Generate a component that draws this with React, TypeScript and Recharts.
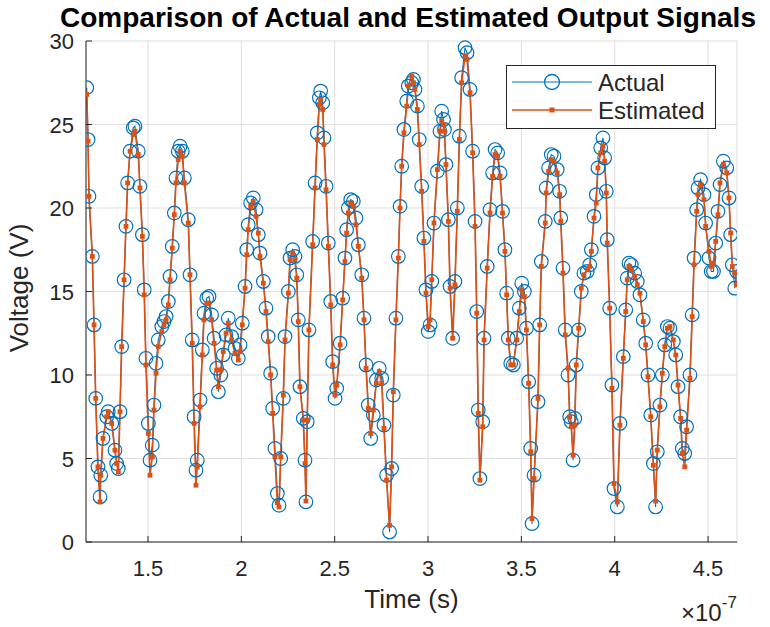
import React from "react";
import { LineChart, Line, XAxis, YAxis, CartesianGrid, Legend, Label } from "recharts";

// time in units of 1e-7 s
const timeE7 = [
  1.172, 1.179, 1.184, 1.202, 1.211, 1.22, 1.232, 1.243, 1.247, 1.259,
  1.279, 1.287, 1.306, 1.323, 1.332, 1.341, 1.35, 1.359, 1.372, 1.382,
  1.391, 1.404, 1.421, 1.43, 1.448, 1.457, 1.47, 1.48, 1.489, 1.502,
  1.511, 1.523, 1.532, 1.543, 1.555, 1.574, 1.586, 1.597, 1.609, 1.618,
  1.63, 1.641, 1.65, 1.662, 1.672, 1.684, 1.695, 1.716, 1.725, 1.737,
  1.747, 1.757, 1.764, 1.779, 1.791, 1.8, 1.815, 1.827, 1.841, 1.854,
  1.868, 1.877, 1.89, 1.903, 1.918, 1.93, 1.948, 1.966, 1.984, 1.993,
  2.005, 2.02, 2.029, 2.037, 2.05, 2.064, 2.079, 2.091, 2.1, 2.118,
  2.132, 2.144, 2.157, 2.168, 2.18, 2.193, 2.202, 2.211, 2.225, 2.234,
  2.252, 2.261, 2.275, 2.287, 2.297, 2.305, 2.314, 2.332, 2.341, 2.346,
  2.353, 2.362, 2.382, 2.395, 2.407, 2.418, 2.425, 2.436, 2.443, 2.454,
  2.466, 2.479, 2.489, 2.502, 2.511, 2.529, 2.543, 2.555, 2.564, 2.573,
  2.586, 2.6, 2.614, 2.627, 2.645, 2.657, 2.668, 2.68, 2.693, 2.707,
  2.723, 2.739, 2.752, 2.764, 2.778, 2.794, 2.805, 2.814, 2.828, 2.841,
  2.85, 2.859, 2.871, 2.886, 2.894, 2.913, 2.922, 2.93, 2.943, 2.953,
  2.966, 2.978, 2.989, 3.001, 3.011, 3.02, 3.032, 3.05, 3.064, 3.073,
  3.083, 3.088, 3.096, 3.109, 3.118, 3.132, 3.144, 3.157, 3.168, 3.18,
  3.198, 3.209, 3.225, 3.239, 3.252, 3.261, 3.269, 3.278, 3.293, 3.3,
  3.317, 3.332, 3.346, 3.359, 3.373, 3.386, 3.399, 3.412, 3.421, 3.43,
  3.443, 3.457, 3.475, 3.489, 3.502, 3.516, 3.527, 3.539, 3.55, 3.557,
  3.568, 3.589, 3.598, 3.607, 3.628, 3.633, 3.646, 3.66, 3.675, 3.692,
  3.705, 3.711, 3.723, 3.735, 3.75, 3.759, 3.767, 3.777, 3.786, 3.794,
  3.807, 3.821, 3.835, 3.853, 3.866, 3.875, 3.889, 3.901, 3.91, 3.925,
  3.937, 3.946, 3.955, 3.96, 3.973, 3.985, 3.996, 4.014, 4.028, 4.046,
  4.059, 4.067, 4.076, 4.089, 4.107, 4.121, 4.135, 4.153, 4.166, 4.178,
  4.193, 4.207, 4.219, 4.228, 4.242, 4.255, 4.268, 4.282, 4.296, 4.314,
  4.327, 4.339, 4.353, 4.362, 4.375, 4.385, 4.403, 4.415, 4.425, 4.439,
  4.446, 4.46, 4.478, 4.487, 4.505, 4.517, 4.529, 4.541, 4.553, 4.564,
  4.582, 4.6, 4.612, 4.621, 4.63, 4.643, 4.653,
];

const actualV = [
  27.2, 24.1, 20.7, 17.1, 13.0, 8.6, 4.5, 2.7, 4.0, 6.2,
  7.5, 7.8, 7.1, 5.5, 4.7, 4.4, 7.8, 11.7, 15.7, 18.9,
  21.5, 23.4, 24.8, 24.9, 23.4, 21.3, 18.4, 15.1, 11.0, 7.1,
  4.9, 5.8, 8.2, 10.7, 12.1, 12.9, 13.2, 13.5, 14.4, 15.9,
  17.7, 19.7, 21.8, 23.4, 23.7, 23.4, 21.8, 19.3, 16.0, 12.1,
  7.5, 4.3, 4.9, 8.5, 11.5, 13.7, 14.6, 14.7, 13.6, 12.2,
  10.4, 9.0, 10.0, 11.2, 12.4, 13.4, 12.3, 11.6, 11.0, 11.8,
  13.1, 15.3, 17.5, 19.0, 20.3, 20.6, 19.9, 18.4, 17.3, 15.6,
  14.0, 12.3, 10.1, 8.0, 5.6, 2.9, 2.2, 5.0, 8.6, 12.3,
  15.0, 17.0, 17.5, 17.1, 16.0, 13.3, 9.3, 7.4, 4.9, 2.4,
  7.2, 12.7, 18.0, 21.5, 24.5, 26.6, 27.0, 26.3, 24.2, 21.3,
  17.9, 14.4, 10.8, 8.6, 9.2, 11.9, 14.6, 17.0, 18.7, 20.0,
  20.5, 20.4, 19.4, 17.8, 16.0, 13.4, 10.6, 8.2, 6.2, 7.6,
  9.7, 10.4, 9.8, 7.0, 4.0, 0.6, 4.4, 8.8, 13.4, 17.1,
  20.1, 22.5, 24.7, 26.4, 27.3, 27.5, 27.7, 27.1, 26.1, 24.1,
  21.3, 18.2, 15.1, 12.6, 13.0, 15.6, 19.1, 22.2, 24.6, 25.8,
  25.3, 24.7, 22.6, 19.3, 15.3, 12.2, 15.6, 20.0, 24.3, 27.8,
  29.6, 29.3, 27.1, 23.4, 19.2, 13.8, 7.9, 3.8, 7.2, 12.2,
  16.5, 19.9, 22.1, 23.5, 23.3, 22.1, 19.8, 17.5, 14.9, 12.2,
  10.7, 10.6, 12.2, 14.0, 15.5, 15.0, 12.8, 9.6, 5.6, 1.1,
  4.0, 8.4, 13.0, 16.8, 19.2, 21.2, 22.4, 23.2, 23.1, 22.3,
  21.0, 19.4, 16.4, 12.7, 10.0, 7.5, 7.2, 4.9, 7.4, 10.6,
  12.7, 15.0, 16.1, 16.2, 16.6, 17.5, 19.5, 20.8, 22.4, 23.6,
  24.2, 23.0, 21.0, 18.1, 14.0, 9.4, 3.2, 2.1, 7.1, 11.1,
  13.9, 15.8, 16.7, 16.6, 16.1, 15.6, 14.8, 13.3, 11.9, 10.0,
  7.6, 4.7, 2.1, 5.4, 8.2, 10.0, 11.8, 12.9, 12.8, 12.0,
  11.2, 9.3, 7.5, 5.6, 5.3, 6.9, 10.0, 13.6, 17.0, 19.9,
  21.2, 21.7, 20.8, 19.1, 17.0, 16.2, 16.2, 17.9, 19.8, 21.4,
  22.8, 22.4, 20.6, 18.4, 16.6, 15.2, 16.2,
];

const estimatedV = [
  26.8, 24.0, 20.7, 17.1, 13.0, 8.6, 4.5, 2.4, 4.0, 6.2,
  7.5, 7.8, 7.1, 5.5, 4.7, 4.2, 7.8, 11.7, 15.7, 18.9,
  21.5, 23.4, 24.4, 24.6, 23.2, 21.2, 18.3, 14.8, 10.6, 6.5,
  4.0, 5.1, 7.9, 10.1, 11.7, 12.6, 13.0, 13.3, 14.2, 15.7,
  17.6, 19.6, 21.5, 22.9, 23.4, 23.1, 21.5, 19.1, 16.0, 11.9,
  7.1, 3.4, 4.5, 8.1, 11.2, 13.3, 14.3, 14.3, 13.3, 11.9,
  10.3, 9.3, 10.3, 11.4, 12.5, 13.1, 12.1, 11.3, 10.9, 11.4,
  13.0, 15.2, 17.2, 18.7, 20.1, 20.4, 19.5, 18.5, 17.1, 15.5,
  13.8, 12.0, 10.0, 7.7, 5.1, 2.35, 2.1, 5.1, 8.8, 12.1,
  14.9, 16.9, 17.3, 16.9, 15.8, 13.2, 9.3, 7.3, 4.7, 2.45,
  7.3, 12.7, 17.8, 21.2, 24.1, 26.2, 26.5, 25.9, 23.8, 21.1,
  17.7, 14.2, 10.6, 8.8, 9.4, 11.8, 14.5, 16.8, 18.5, 19.7,
  20.3, 20.1, 19.0, 17.7, 15.8, 13.3, 10.4, 8.0, 6.5, 7.9,
  9.5, 10.2, 9.5, 6.8, 3.7, 1.0, 4.5, 9.0, 13.3, 17.0,
  20.0, 22.5, 24.5, 26.1, 27.3, 27.9, 27.5, 27.1, 25.9, 23.8,
  21.0, 18.0, 14.9, 12.9, 13.3, 15.7, 19.1, 22.3, 24.6, 25.2,
  25.0, 24.6, 22.6, 19.2, 15.2, 12.2, 15.4, 19.8, 24.1, 27.5,
  29.1, 28.9, 26.9, 23.3, 18.9, 13.7, 7.7, 3.7, 6.9, 12.1,
  16.4, 19.7, 21.9, 23.2, 23.1, 21.9, 19.7, 17.4, 14.8, 12.1,
  10.6, 10.6, 12.1, 13.8, 15.1, 14.7, 12.7, 9.5, 5.4, 1.4,
  3.8, 8.6, 13.0, 16.5, 19.1, 20.9, 22.2, 22.9, 22.8, 22.1,
  20.8, 19.2, 16.1, 12.4, 10.4, 7.5, 6.9, 5.2, 7.0, 10.6,
  12.8, 15.2, 16.0, 16.3, 16.5, 17.4, 19.4, 20.3, 22.4, 23.3,
  23.7, 22.8, 20.9, 17.9, 14.0, 9.2, 3.5, 2.4, 7.0, 11.0,
  13.8, 15.7, 16.5, 16.3, 15.9, 15.4, 14.9, 13.2, 11.8, 9.9,
  7.5, 4.6, 2.45, 5.5, 8.1, 10.1, 11.7, 12.8, 12.9, 12.1,
  11.2, 9.4, 7.4, 5.3, 4.5, 6.7, 9.8, 13.5, 16.6, 19.8,
  20.8, 21.4, 20.5, 18.9, 17.4, 16.5, 16.7, 18.0, 19.6, 21.5,
  22.6, 22.1, 20.6, 18.5, 16.5, 16.1, 15.4,
];

const xTicks = [1.5, 2, 2.5, 3, 3.5, 4, 4.5];
const yTicks = [0, 5, 10, 15, 20, 25, 30];
const xDomain = [1.168, 4.655];

const BLUE = "#0072BD";
const ORANGE = "#D95319";
const INK = "#262626";
const FONT = "Arial, 'Liberation Sans', sans-serif";

const data = timeE7.map((t, i) => ({
  t,
  actual: actualV[i],
  estimated: estimatedV[i],
}));

// MATLAB style ticks point into the box
const BottomTick = ({ x, y, payload }: any) => (
  <g>
    <line x1={x} x2={x} y1={y} y2={y - 6} stroke={INK} />
    <text x={x} y={y + 34} textAnchor="middle" fill={INK} fontSize={22} fontFamily={FONT}>
      {payload.value}
    </text>
  </g>
);

const TopTick = ({ x, y }: any) => <line x1={x} x2={x} y1={y} y2={y + 6} stroke={INK} />;

const LeftTick = ({ x, y, payload }: any) => (
  <g>
    <line x1={x} x2={x + 6} y1={y} y2={y} stroke={INK} />
    <text x={x - 12} y={y + 8} textAnchor="end" fill={INK} fontSize={22} fontFamily={FONT}>
      {payload.value}
    </text>
  </g>
);

const RightTick = ({ x, y }: any) => <line x1={x} x2={x - 6} y1={y} y2={y} stroke={INK} />;

const circleDot = (props: any) => (
  <circle
    key={`a-${props.index}`}
    cx={props.cx}
    cy={props.cy}
    r={6.8}
    fill="none"
    stroke={BLUE}
    strokeWidth={1.2}
  />
);

const squareDot = (props: any) => (
  <rect
    key={`e-${props.index}`}
    x={props.cx - 2.4}
    y={props.cy - 2.4}
    width={4.8}
    height={4.8}
    fill={ORANGE}
  />
);

const LegendBox = () => (
  <svg width={211} height={65} style={{ display: "block" }}>
    <rect x={0.5} y={0.5} width={209} height={63} fill="#fff" stroke={INK} />
    <line x1={6} x2={86} y1={17} y2={17} stroke={BLUE} strokeWidth={1.2} />
    <circle cx={46} cy={17} r={7.5} fill="none" stroke={BLUE} strokeWidth={1.3} />
    <text x={92} y={26} fontSize={24} fill={INK} fontFamily={FONT}>
      Actual
    </text>
    <line x1={6} x2={86} y1={45} y2={45} stroke={ORANGE} strokeWidth={1.6} />
    <rect x={43.5} y={42.5} width={5} height={5} fill={ORANGE} />
    <text x={92} y={54} fontSize={24} fill={INK} fontFamily={FONT}>
      Estimated
    </text>
  </svg>
);

export default function App() {
  return (
    <div style={{ position: "absolute", left: 0, top: 0, width: 770, height: 627, background: "#fff" }}>
      <div
        style={{
          position: "absolute",
          left: 408,
          top: 3,
          transform: "translateX(-50%)",
          whiteSpace: "nowrap",
          fontFamily: FONT,
          fontWeight: "bold",
          fontSize: 28,
          lineHeight: "30px",
          color: "#000",
        }}
      >
        Comparison of Actual and Estimated Output Signals
      </div>
      <LineChart
        width={770}
        height={627}
        data={data}
        margin={{ top: 41, right: 33, bottom: 0, left: 0 }}
      >
        <CartesianGrid stroke="#dfdfdf" strokeWidth={1} />
        <XAxis
          dataKey="t"
          type="number"
          domain={xDomain}
          ticks={xTicks}
          allowDataOverflow
          height={85}
          tickSize={0}
          tickMargin={0}
          axisLine={{ stroke: INK }}
          tickLine={false}
          tick={BottomTick}
        >
          <Label
            content={() => (
              <g fontFamily={FONT} fill={INK}>
                <text x={411.5} y={608} textAnchor="middle" fontSize={26}>
                  Time (s)
                </text>
                <text x={681} y={621} fontSize={24}>
                  ×10
                  <tspan dy={-13} fontSize={17}>
                    -7
                  </tspan>
                </text>
              </g>
            )}
          />
        </XAxis>
        <XAxis
          xAxisId="top"
          orientation="top"
          dataKey="t"
          type="number"
          domain={xDomain}
          ticks={xTicks}
          allowDataOverflow
          height={0}
          tickSize={0}
          tickMargin={0}
          axisLine={{ stroke: INK }}
          tickLine={false}
          tick={TopTick}
        />
        <YAxis
          type="number"
          domain={[0, 30]}
          ticks={yTicks}
          width={86}
          tickSize={0}
          tickMargin={0}
          axisLine={{ stroke: INK }}
          tickLine={false}
          tick={LeftTick}
        >
          <Label
            content={() => (
              <text
                x={28}
                y={288}
                transform="rotate(-90 28 288)"
                textAnchor="middle"
                fontSize={26}
                fill={INK}
                fontFamily={FONT}
              >
                Voltage (V)
              </text>
            )}
          />
        </YAxis>
        <YAxis
          yAxisId="right"
          orientation="right"
          type="number"
          domain={[0, 30]}
          ticks={yTicks}
          width={0}
          tickSize={0}
          tickMargin={0}
          axisLine={{ stroke: INK }}
          tickLine={false}
          tick={RightTick}
        />
        <Legend
          layout="vertical"
          align="center"
          verticalAlign="middle"
          content={LegendBox}
          wrapperStyle={{ left: 506, top: 65, width: 211, height: 65 }}
        />
        <Line
          type="linear"
          dataKey="actual"
          name="Actual"
          stroke={BLUE}
          strokeWidth={1.1}
          dot={circleDot}
          activeDot={false}
          isAnimationActive={false}
        />
        <Line
          type="linear"
          dataKey="estimated"
          name="Estimated"
          stroke={ORANGE}
          strokeWidth={1.7}
          dot={squareDot}
          activeDot={false}
          isAnimationActive={false}
        />
      </LineChart>
    </div>
  );
}
